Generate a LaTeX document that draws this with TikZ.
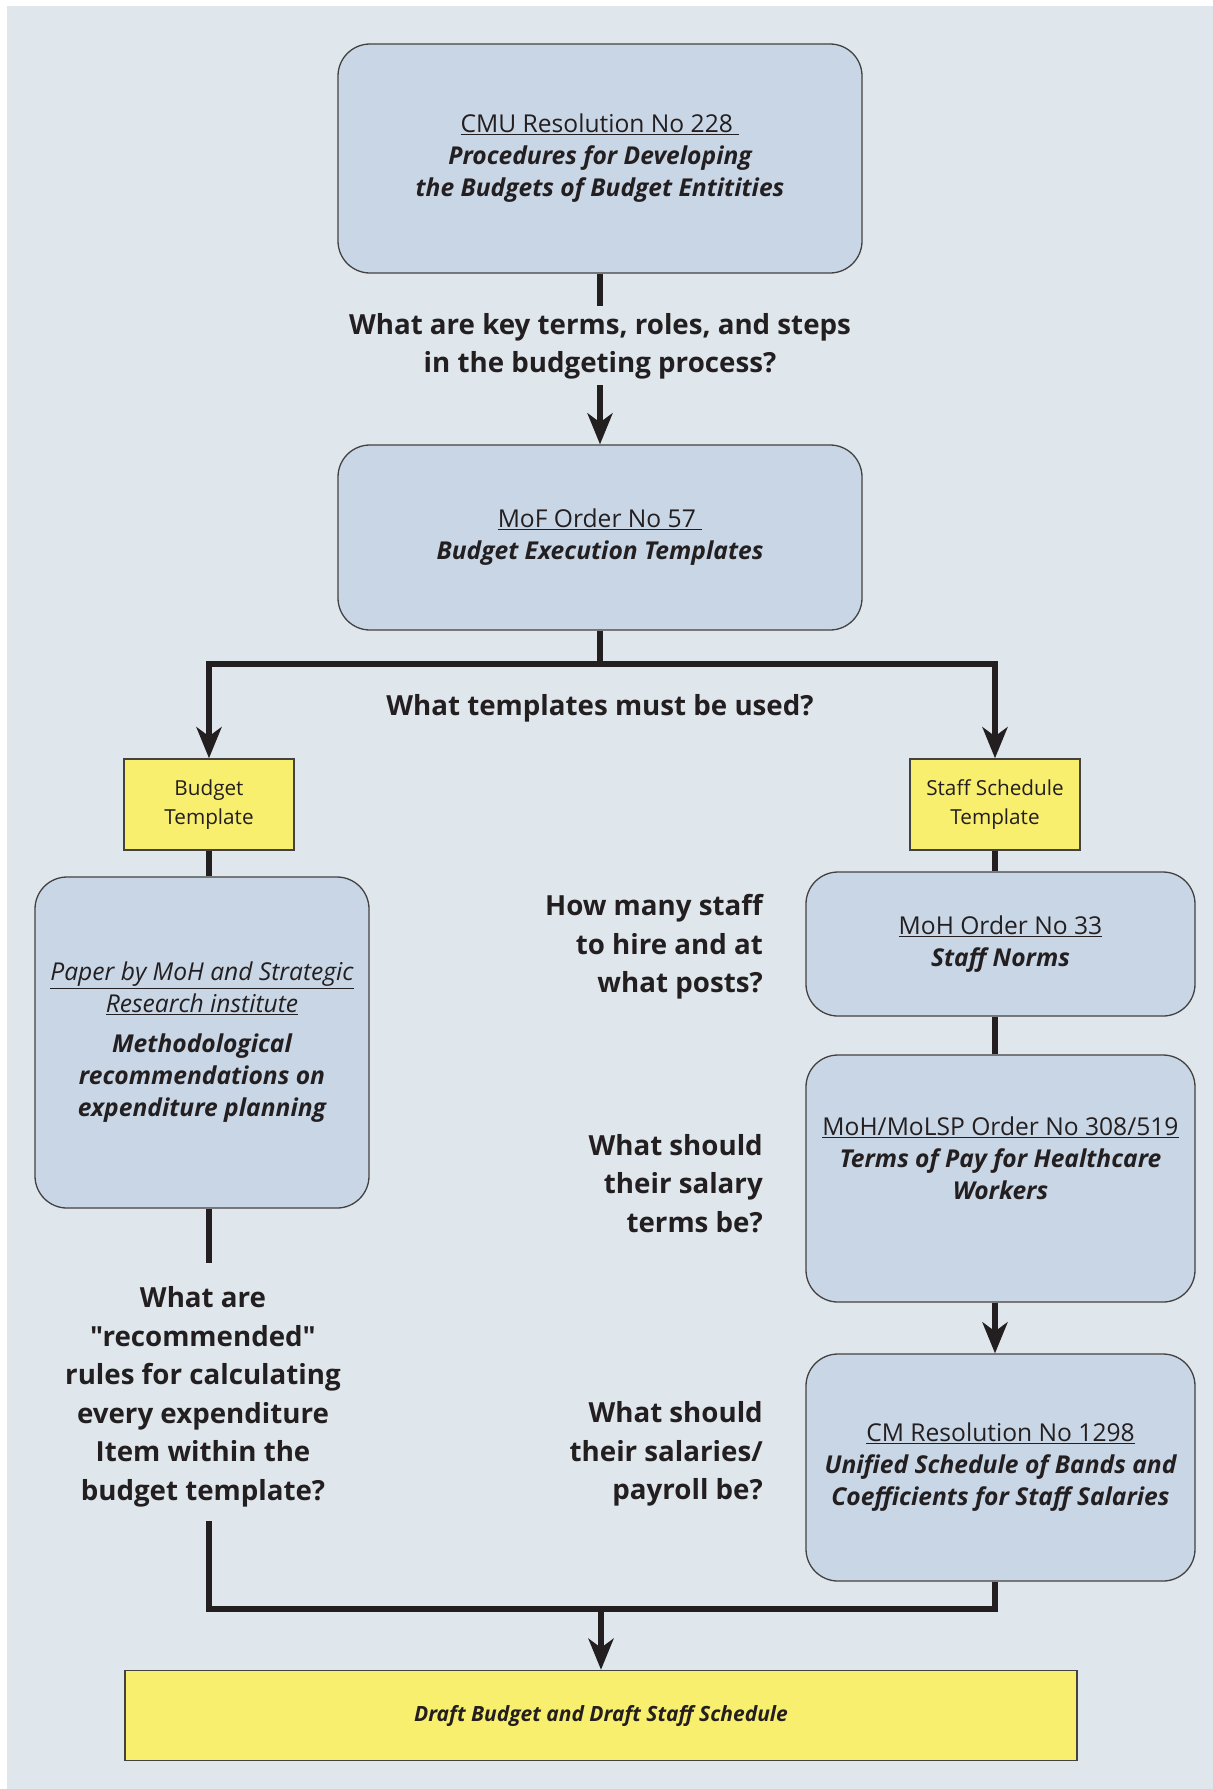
\documentclass[tikz,border=0pt]{standalone}
\usepackage{fontspec}
\setmainfont{Open Sans}[Ligatures=TeXOff]
\usetikzlibrary{arrows.meta,positioning}
\definecolor{pagebg}{RGB}{223,231,237}
\definecolor{docfill}{RGB}{201,214,229}
\definecolor{tmplfill}{RGB}{249,239,111}
\definecolor{ink}{RGB}{35,31,32}
\tikzset{doc/.style={draw=ink!85,line width=1.3pt,rounded corners=32pt,fill=docfill,align=center,
 inner sep=0pt,font=\fontsize{24.6}{32}\selectfont,text=ink},
 tmpl/.style={draw=ink!85,line width=1.5pt,fill=tmplfill,align=center,inner sep=0pt,
 font=\fontsize{20.7}{29}\selectfont,text=ink},
 ques/.style={align=center,inner sep=0pt,font=\fontsize{27.7}{38.5}\selectfont\bfseries,text=ink},
 link/.style={draw=ink,line width=5.5pt,line join=miter},
 arr/.style={link,-{Stealth[length=31pt,width=25pt,inset=9pt]}}}
\newcommand{\bi}{\bfseries\itshape}

\begin{document}
\begin{tikzpicture}[x=1pt,y=-1pt]
\useasboundingbox (0,0) rectangle (1213,1789);
\fill[pagebg] (7,6) rectangle (1213,1789);
% documents and templates
\node[doc,minimum width=524pt,minimum height=229pt] (cmu) at (600,158.5)
 {\underline{CMU Resolution No 228\ }\\{\bi Procedures for Developing}\\{\bi the Budgets of Budget Entitities}};
\node[ques] (q1) at (600,346.5) {What are key terms, roles, and steps\\in the budgeting process?};
\node[doc,minimum width=524pt,minimum height=185pt] (mof) at (600,537.5)
 {\underline{MoF Order No 57\ }\\{\bi Budget Execution Templates}};
\node[ques] (q2) at (600,708) {What templates must be used?};
\node[tmpl,minimum width=170pt,minimum height=91pt] (budt) at (209,804.5) {Budget\\Template};
\node[tmpl,minimum width=170pt,minimum height=91pt] (stafft) at (995,804.5) {Staff Schedule\\Template};
\node[doc,minimum width=334pt,minimum height=331pt] (paper) at (202,1042.5)
 {\itshape\underline{Paper by MoH and Strategic}\\\itshape\underline{Research institute}\\[8pt]
 {\bi Methodological}\\{\bi recommendations on}\\{\bi expenditure planning}};
\node[doc,minimum width=389pt,minimum height=144pt] (moh) at (1000.5,944)
 {\underline{MoH Order No 33}\\{\bi Staff Norms}};
\node[doc,minimum width=389pt,minimum height=247pt] (molsp) at (1000.5,1178.5)
 {\underline{MoH/MoLSP Order No 308/519}\\{\bi Terms of Pay for Healthcare}\\{\bi Workers}\\[9pt]};
\node[doc,minimum width=389pt,minimum height=227pt] (cmres) at (1000.5,1467.5)
 {\underline{CM Resolution No 1298}\\{\bi Unified Schedule of Bands and}\\{\bi Coefficients for Staff Salaries}};
\node[tmpl,minimum width=952pt,minimum height=90pt,font=\fontsize{21}{26}\selectfont\bi] (final) at (601,1715.5)
 {Draft Budget and Draft Staff Schedule};
% questions
\node[ques] (q3) at (203,1397) {What are\\"recommended"\\rules for calculating\\every expenditure\\Item within the\\budget template?};
\node[ques,align=right,anchor=east] (q4) at (763,947) {How many staff\\to hire and at\\what posts?};
\node[ques,align=right,anchor=east] (q5) at (763,1183.5) {What should\\their salary\\terms be?};
\node[ques,align=right,anchor=east] (q6) at (763,1454) {What should\\their salaries/\\payroll be?};
% connectors
\coordinate (q1top) at (600,306);
\coordinate (q1bot) at (600,385);
\coordinate (split) at (600,664);
\coordinate (q3top) at (209,1263);
\coordinate (q3bot) at (209,1521);
\coordinate (joinR) at (995,1609);
\coordinate (join) at (601,1609);
\draw[link] (cmu.south) -- (q1top);
\draw[arr] (q1bot) -- (mof.north);
\draw[link] (mof.south) -- (split);
\draw[arr] (split) -| (budt.north);
\draw[arr] (split) -| (stafft.north);
\draw[link] (budt.south) -- (budt.south |- paper.north);
\draw[link] (budt.south |- paper.south) -- (q3top);
\draw[link] (stafft.south) -- (stafft.south |- moh.north);
\draw[link] (stafft.south |- moh.south) -- (stafft.south |- molsp.north);
\draw[arr] (stafft.south |- molsp.south) -- (stafft.south |- cmres.north);
\draw[link] (q3bot) |- (joinR) -- (stafft.south |- cmres.south);
\draw[arr] (join) -- (final.north);
\end{tikzpicture}
\end{document}
